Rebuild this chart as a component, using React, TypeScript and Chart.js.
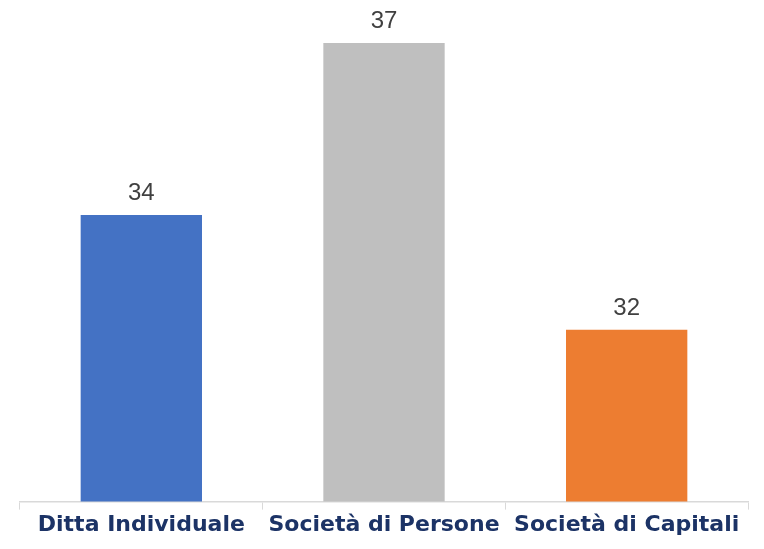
import React, { useEffect, useRef } from "react";
import { Chart, registerables } from "chart.js";

Chart.register(...registerables);

const categories = ["Ditta Individuale", "Società di Persone", "Società di Capitali"];
const values = [34, 37, 32];
const barColors = ["#4472C4", "#BFBFBF", "#ED7D31"];
const yMin = 29;
const yMax = 37;

const valueLabelPlugin = {
  id: "valueLabels",
  afterDatasetsDraw(chart: any) {
    const ctx = chart.ctx;
    const meta = chart.getDatasetMeta(0);
    ctx.save();
    ctx.font = "24px 'Liberation Sans', Arial, sans-serif";
    ctx.fillStyle = "#404040";
    ctx.textAlign = "center";
    ctx.textBaseline = "alphabetic";
    meta.data.forEach((bar: any, i: number) => {
      ctx.fillText(String(values[i]), bar.x, bar.y - 15);
    });
    ctx.restore();
  },
};

export default function App() {
  const canvasRef = useRef<HTMLCanvasElement | null>(null);

  useEffect(() => {
    if (!canvasRef.current) return;
    const chart = new Chart(canvasRef.current, {
      type: "bar",
      data: {
        labels: categories,
        datasets: [
          {
            data: values,
            backgroundColor: barColors,
            borderWidth: 0,
            categoryPercentage: 1,
            barPercentage: 0.5,
          },
        ],
      },
      options: {
        animation: false,
        responsive: true,
        maintainAspectRatio: false,
        layout: { padding: { left: 20, right: 16, top: 43, bottom: 9 } },
        plugins: { legend: { display: false }, tooltip: { enabled: false } },
        scales: {
          y: { display: false, min: yMin, max: yMax },
          x: {
            grid: {
              display: true,
              drawOnChartArea: false,
              drawTicks: true,
              tickLength: 8,
              color: "#D9D9D9",
              offset: true,
            },
            border: { display: true, color: "#D9D9D9", width: 1.5 },
            ticks: {
              color: "#1C3366",
              font: { family: "'DejaVu Sans', sans-serif", size: 22, weight: "bold" },
              padding: 2,
              maxRotation: 0,
              minRotation: 0,
              autoSkip: false,
            },
          },
        },
      },
      plugins: [valueLabelPlugin],
    });
    return () => chart.destroy();
  }, []);

  return (
    <div style={{ position: "fixed", left: 0, top: 0, width: 764, height: 549, background: "#fff" }}>
      <canvas ref={canvasRef} />
    </div>
  );
}
